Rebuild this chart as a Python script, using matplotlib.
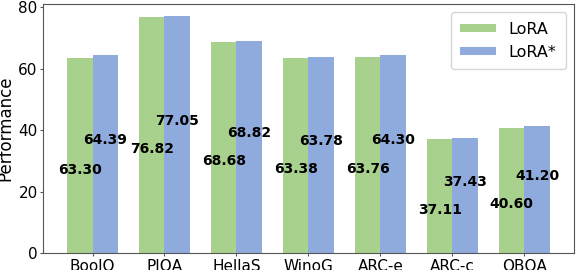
import matplotlib.pyplot as plt
import numpy as np

tasks = ['BoolQ', 'PIQA', 'HellaS', 'WinoG', 'ARC-e', 'ARC-c', 'OBQA']
lora = [63.30, 76.82, 68.68, 63.38, 63.76, 37.11, 40.60]
lora_star = [64.39, 77.05, 68.82, 63.78, 64.30, 37.43, 41.20]


def main():
    x = np.arange(len(tasks))
    w = 0.35

    fig, ax = plt.subplots(figsize=(5.76, 2.7), dpi=100)
    fig.subplots_adjust(left=0.075, right=0.996, bottom=0.063, top=0.984)

    b1 = ax.bar(x - w / 2, lora, w, color='#a9d18e', label='LoRA')
    b2 = ax.bar(x + w / 2, lora_star, w, color='#8faadc', label='LoRA*')

    # value labels sit around mid-height, green a bit lower, blue a bit higher
    for rect, v in zip(b1, lora):
        ax.text(rect.get_x() + rect.get_width() / 2, v / 2 - 4.5, f'{v:.2f}',
                ha='center', va='center', fontsize=10, fontweight='bold')
    for rect, v in zip(b2, lora_star):
        ax.text(rect.get_x() + rect.get_width() / 2, v / 2 + 4.5, f'{v:.2f}',
                ha='center', va='center', fontsize=10, fontweight='bold')

    for s in ax.spines.values():
        s.set_color('#555555')
    ax.tick_params(colors='#555555', labelcolor='black', labelsize=11,
                   length=2.5, pad=1.5)

    ax.set_xticks(x)
    ax.set_xticklabels(tasks)
    ax.set_ylabel('Performance', fontsize=12, labelpad=3)
    ax.legend(loc='upper right', fontsize=11.5, handleheight=0.45,
              handlelength=2.2, borderpad=0.6)

    fig.savefig('out.png')


main()
